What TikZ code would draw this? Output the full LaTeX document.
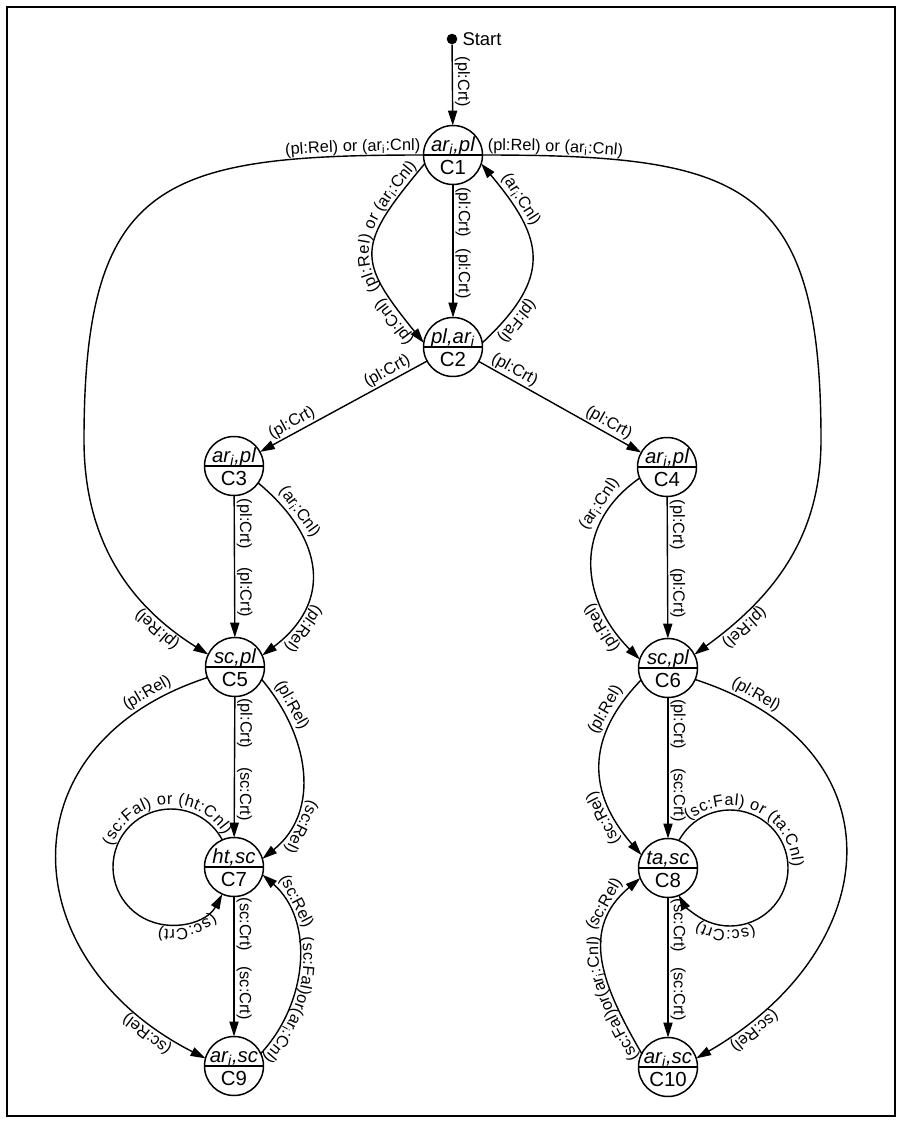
\documentclass[tikz,border=0pt]{standalone}
\usepackage{fontspec}
\setmainfont{Liberation Sans}
\usetikzlibrary{arrows.meta,decorations.text}
\newcommand\labfont{\fontsize{9.3pt}{11pt}\selectfont}
\newcommand\nodefont{\fontsize{11.6pt}{13pt}\selectfont}
\newcommand\ari{ar\textsubscript{i}}
\newcommand\cstate[5]{%
  \node[st] (#1) at (#2,#3) {};
  \draw[divline] (#1.west) -- (#1.east);
  \node[uptext] (#1t) at (#2,#3+3.5) {#4};
  \node[dntext] (#1b) at (#2,#3-19) {#5};
}
\begin{document}
\begin{tikzpicture}[x=0.02cm,y=0.02cm,
  st/.style={circle,draw,line width=0.85pt,minimum size=1.18cm,inner sep=0pt,outer sep=0pt},
  divline/.style={line width=0.85pt},
  uptext/.style={font=\nodefont\itshape,inner sep=0pt,anchor=base},
  dntext/.style={font=\nodefont,inner sep=0pt,anchor=base},
  conn/.style={line width=0.8pt},
  >={Triangle[length=8.5pt,width=5.2pt]},
  lab/.style={font=\labfont,sloped,allow upside down,above,inner sep=1pt},
  pathtext/.style 2 args={postaction={decorate,decoration={text along path,raise=2.5pt,text align={#1},text={|\labfont|#2}}}}
]
\useasboundingbox (0,0) rectangle (902,-1125);
\draw[line width=0.8pt] (7,-7) rectangle (895,-1116);

% states
\cstate{C1}{453}{-155}{\ari,pl}{C1}
\cstate{C2}{453}{-347}{pl,\ari}{C2}
\cstate{C3}{234}{-466}{\ari,pl}{C3}
\cstate{C4}{667}{-467}{\ari,pl}{C4}
\cstate{C5}{235}{-667}{sc,pl}{C5}
\cstate{C6}{668}{-668}{sc,pl}{C6}
\cstate{C7}{234}{-867}{ht,sc}{C7}
\cstate{C8}{668}{-868}{ta,sc}{C8}
\cstate{C9}{234}{-1066}{\ari,sc}{C9}
\cstate{C10}{668}{-1067}{\ari,sc}{C10}

% start
\node[circle,fill,inner sep=0pt,minimum size=0.212cm] (start) at (452,-39) {};
\node[anchor=west,font=\fontsize{10.5pt}{12pt}\selectfont,inner sep=0pt] (starttxt) at ([xshift=0.09cm]start.east) {Start};
\draw[conn,->] (start) -- (C1) node[lab,pos=0.46]{(pl:Crt)};

% helper coordinates
\coordinate (LA) at (84,-440);
\coordinate (RA) at (821,-440);
\coordinate (L7c) at (171,-867);
\coordinate (L8c) at (730,-868);

% C1 - C2
\draw[conn,->] (C1) -- (C2) node[lab,pos=0.21]{(pl:Crt)} node[lab,pos=0.67]{(pl:Crt)};
\draw[conn,<-,pathtext={right,right indent=4pt}{(pl:Rel) or (ar{\textsubscript{i}}:Cnl)}]
  (C2.172) to[out=129,in=230,looseness=1.53] node[lab,pos=0.12]{(pl:Cnl)} (C1.197);
\draw[conn,<-] (C1.-17) to[out=-50,in=43,looseness=1.39]
  node[lab,pos=0.2]{(\ari:Cnl)} node[lab,pos=0.85]{(pl:Fal)} (C2.8);

% big outer curves from C1
\draw[conn,<-,pathtext={right,right indent=2pt}{(pl:Rel) or (ar{\textsubscript{i}}:Cnl)}]
  (C5.155) to[out=148,in=-90] node[lab,pos=0.2]{(pl:Rel)}
  (LA) to[out=90,in=180,looseness=1.5] (C1.west);
\draw[conn,->,pathtext={left indent=3pt}{(pl:Rel) or (ar{\textsubscript{i}}:Cnl)}]
  (C1.east) to[out=0,in=90,looseness=1.5]
  (RA) to[out=-90,in=36] node[lab,pos=0.8]{(pl:Rel)} (C6.27);

% C2 - C3 / C4
\draw[conn,<-] (C3) -- (C2) node[lab,pos=0.22]{(pl:Crt)} node[lab,pos=0.79]{(pl:Crt)};
\draw[conn,->] (C2) -- (C4) node[lab,pos=0.19]{(pl:Crt)} node[lab,pos=0.77]{(pl:Crt)};

% C3 - C5
\draw[conn,->] (C3) -- (C5) node[lab,pos=0.2]{(pl:Crt)} node[lab,pos=0.68]{(pl:Crt)};
\draw[conn,->] (C3.-35) to[out=-40,in=37,looseness=1.3]
  node[lab,pos=0.2]{(\ari:Cnl)} node[lab,pos=0.8]{(pl:Rel)} (C5.23);

% C4 - C6
\draw[conn,->] (C4) -- (C6) node[lab,pos=0.2]{(pl:Crt)} node[lab,pos=0.68]{(pl:Crt)};
\draw[conn,<-] (C6.163) to[out=135,in=215,looseness=1.18]
  node[lab,pos=0.2]{(pl:Rel)} node[lab,pos=0.8]{(\ari:Cnl)} (C4.202);

% C5 - C7 / C9
\draw[conn,->] (C5) -- (C7) node[lab,pos=0.19]{(pl:Crt)} node[lab,pos=0.69]{(sc:Crt)};
\draw[conn,->] (C5.-25) to[out=-50,in=39,looseness=1.07]
  node[lab,pos=0.17]{(pl:Rel)} node[lab,pos=0.77]{(sc:Rel)} (C7.16);
\draw[conn,<-] (C9.165) to[out=153,in=198,looseness=1.45]
  node[lab,pos=0.1]{(sc:Rel)} node[lab,pos=0.9]{(pl:Rel)} (C5.201);

% C6 - C8 / C10
\draw[conn,->] (C6) -- (C8) node[lab,pos=0.19]{(pl:Crt)} node[lab,pos=0.69]{(sc:Crt)};
\draw[conn,<-] (C8.154) to[out=131,in=226,looseness=1.19]
  node[lab,pos=0.23]{(sc:Rel)} node[lab,pos=0.8]{(pl:Rel)} (C6.204);
\draw[conn,->] (C6.-23) to[out=-18,in=30,looseness=1.48]
  node[lab,pos=0.1]{(pl:Rel)} node[lab,pos=0.9]{(sc:Rel)} (C10.17);

% C7 loop
\draw[conn,<-] ([shift={(-28:58)}]L7c) arc[start angle=-28,end angle=-332,radius=58];
\path[pathtext={center}{(sc:Fal) or (ht:Cnl)}] ([shift={(216:58)}]L7c) arc[start angle=216,end angle=-24,radius=58];
\path[pathtext={center}{(sc:Crt)}] ([shift={(-40:58)}]L7c) arc[start angle=-40,end angle=-110,radius=58];

% C8 loop
\draw[conn,->] ([shift={(152:58)}]L8c) arc[start angle=152,end angle=-152,radius=58];
\path[pathtext={center}{(sc:Fal) or (ta:Cnl)}] ([shift={(186:58)}]L8c) arc[start angle=186,end angle=-54,radius=58];
\path[pathtext={center}{(sc:Crt)}] ([shift={(-60:58)}]L8c) arc[start angle=-60,end angle=-128,radius=58];

% C7 - C9
\draw[conn,->] (C7) -- (C9) node[lab,pos=0.2]{(sc:Crt)} node[lab,pos=0.69]{(sc:Crt)};
\draw[conn,<-] (C7.-15) to[out=-41,in=47,looseness=0.99] node[lab,pos=0.2]{(sc:Rel)} (C9.25);
\path[pathtext={right}{(sc:Fal)or(ar{\textsubscript{i}}:Cnl)}]
  (C7.-15) to[out=-41,in=47,looseness=0.99] (C9.25) -- ++(227:2);

% C8 - C10
\draw[conn,->] (C8) -- (C10) node[lab,pos=0.2]{(sc:Crt)} node[lab,pos=0.69]{(sc:Crt)};
\draw[conn,->] (C10.153) to[out=120,in=220,looseness=1.16] node[lab,pos=0.8]{(sc:Rel)} (C8.200);
\path[pathtext={left}{(sc:Fal)or(ar{\textsubscript{i}}:Cnl)}]
  ([shift={(-60:2)}]C10.153) -- (C10.153) to[out=120,in=220,looseness=1.16] (C8.200);
\end{tikzpicture}
\end{document}
